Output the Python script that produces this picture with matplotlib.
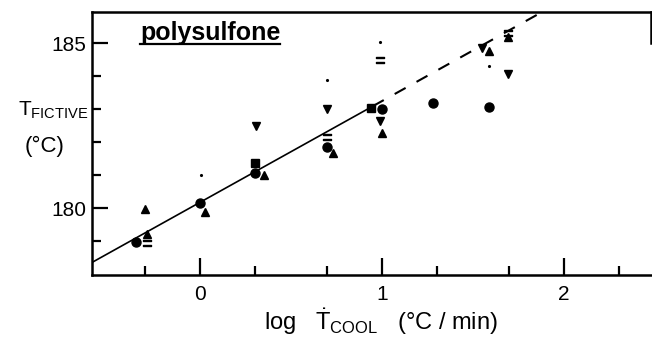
import numpy as np
import matplotlib
matplotlib.use("Agg")
import matplotlib.pyplot as plt

plt.rcParams["font.family"] = ["Liberation Sans", "DejaVu Sans"]
plt.rcParams["mathtext.fontset"] = "custom"
plt.rcParams["mathtext.rm"] = "Liberation Sans"

# fictive temperature (degC) vs log cooling rate (degC/min)
circle_x = [-0.35, 0.00, 0.30, 0.70, 1.00, 1.28, 1.59]
circle_y = [178.97, 180.15, 181.06, 181.85, 183.00, 183.18, 183.06]

square_x = [0.30, 0.94]
square_y = [181.36, 183.03]

tri_up_x = [-0.30, -0.29, 0.03, 0.35, 0.73, 1.00, 1.59, 1.69]
tri_up_y = [179.97, 179.21, 179.88, 181.00, 181.67, 182.27, 184.76, 185.18]

tri_down_x = [0.31, 0.70, 0.99, 1.55, 1.69]
tri_down_y = [182.48, 183.00, 182.64, 184.85, 184.06]

equal_x = [-0.29, 0.70, 0.99, 1.69]
equal_y = [178.94, 182.15, 184.50, 185.30]

faint_x = [0.005, 0.70, 0.99, 1.59]
faint_y = [181.00, 183.88, 185.03, 184.30]

# linear fit: T = intercept + slope * log(rate)
fit_slope = 3.07
fit_intercept = 180.17
fit_solid_end = 0.95

fig = plt.figure(figsize=(6.52, 3.38), dpi=100)
ax = fig.add_axes([0.141, 0.1864, 0.8575, 0.7781])

xs = np.array([-0.6, fit_solid_end])
ax.plot(xs, fit_intercept + fit_slope * xs, color="black", lw=1.2)
xd = np.array([fit_solid_end, 2.5])
ax.plot(xd, fit_intercept + fit_slope * xd, color="black", lw=1.5,
        dashes=(6, 6))

mk = dict(color="black", linestyle="none")
ax.plot(circle_x, circle_y, marker="o", ms=6.5, **mk)
ax.plot(square_x, square_y, marker="s", ms=5.5, **mk)
ax.plot(tri_up_x, tri_up_y, marker="^", ms=5.5, **mk)
ax.plot(tri_down_x, tri_down_y, marker="v", ms=5.5, **mk)
ax.plot(equal_x, equal_y, marker="$=$", ms=6, **mk)
ax.plot(faint_x, faint_y, marker=".", ms=2.5, **mk)

ax.set_xlim(-0.593, 2.478)
ax.set_ylim(177.97, 185.94)

ax.set_xticks([0, 1, 2])
ax.set_xticklabels(["0", "1", "2"])
ax.set_xticks(np.log10([0.5, 2, 5, 20, 50, 200]), minor=True)
ax.set_yticks([180, 185])
ax.set_yticks([179, 181, 182, 183, 184], minor=True)

ax.tick_params(which="both", direction="in", width=1.6, labelsize=15,
               top=False, right=False)
ax.tick_params(axis="x", which="major", length=12, pad=7)
ax.tick_params(axis="x", which="minor", length=6.5)
ax.tick_params(axis="y", which="major", length=11.5, pad=4)
ax.tick_params(axis="y", which="minor", length=6.5)

for side in ["left", "bottom", "top", "right"]:
    ax.spines[side].set_linewidth(1.8)
ax.spines["right"].set_bounds(185.0, 185.94)

title = ax.text(0.086, 0.8935, "polysulfone", transform=ax.transAxes,
                fontsize=18, fontweight="bold", va="baseline", ha="left")
fig.canvas.draw()
bb = title.get_window_extent().transformed(ax.transAxes.inverted())
ax.plot([bb.x0, bb.x1], [bb.y0 + 0.005, bb.y0 + 0.005], color="black",
        lw=1.6, transform=ax.transAxes, clip_on=False)

fig.text(18 / 652, 1 - 110 / 338, r"T$_{\mathrm{FICTIVE}}$", fontsize=15,
         ha="left", va="center")
fig.text(45 / 652, 1 - 146 / 338, "(°C)", fontsize=16, ha="center",
         va="center")
fig.text(381 / 652, 1 - 322 / 338,
         r"log   $\dot{\mathrm{T}}_{\mathrm{COOL}}$   (°C / min)", fontsize=17,
         ha="center", va="center")

fig.savefig("out.png", dpi=100)
